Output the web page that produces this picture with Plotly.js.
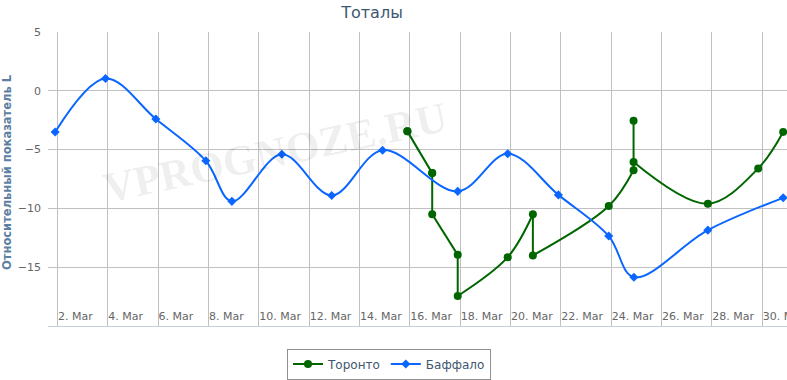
<!DOCTYPE html>
<html>
<head>
<meta charset="utf-8">
<script src="https://cdn.plot.ly/plotly-3.0.1.min.js"></script>
<style>
html, body { margin: 0; padding: 0; background: #fff; overflow: hidden; width: 787px; height: 380px; }
#chart { width: 840px; height: 380px; }
</style>
</head>
<body>
<div id="chart"></div>
<script>
// ---- data ----
const torontoDates = [
  '2015-03-15 21:40', '2015-03-16 21:20', '2015-03-16 21:20', '2015-03-17 21:40', '2015-03-17 21:40',
  '2015-03-19 21:20', '2015-03-20 21:20', '2015-03-20 21:20', '2015-03-23 21:40', '2015-03-24 21:20',
  '2015-03-24 21:20', '2015-03-24 21:20', '2015-03-27 20:10', '2015-03-29 20:10', '2015-03-30 20:00'
];
const torontoValues = [
  -3.45, -7.0, -10.5, -13.95, -17.45,
  -14.15, -10.5, -14.0, -9.8, -6.75,
  -2.55, -6.05, -9.6, -6.6, -3.5
];
const buffaloDates = [
  '2015-03-01 21:50', '2015-03-03 21:50', '2015-03-05 21:50', '2015-03-07 21:30', '2015-03-08 22:20',
  '2015-03-10 22:00', '2015-03-12 21:30', '2015-03-14 22:00', '2015-03-17 21:40', '2015-03-19 21:20',
  '2015-03-21 21:40', '2015-03-23 21:40', '2015-03-24 21:40', '2015-03-27 20:10', '2015-03-30 20:00'
];
const buffaloValues = [
  -3.5, 1.05, -2.4, -5.95, -9.4,
  -5.4, -8.9, -5.05, -8.55, -5.35,
  -8.85, -12.35, -15.85, -11.85, -9.1
];
const seriesNames = ['Торонто', 'Баффало'];
const yTickValues = [5, 0, -5, -10, -15, -20];
const chartTitle = 'Тоталы';
const yAxisTitle = 'Относительный показатель L';
const watermark = 'VPROGNOZE.RU';

const baseFont = 'DejaVu Sans, Verdana, sans-serif';
const GREEN = '#006600';
const BLUE = '#0a66ff';
const W = 840, H = 380;
const PLOT_W = W - 48;

// split a series into runs: straight where consecutive points share a date, spline otherwise
function buildRuns(xs) {
  const runs = [];
  let cur = null;
  for (let i = 0; i < xs.length - 1; i++) {
    const type = xs[i] === xs[i + 1] ? 'linear' : 'spline';
    if (!cur || cur.type !== type) { cur = { type: type, start: i, end: i + 1 }; runs.push(cur); }
    else cur.end = i + 1;
  }
  return runs;
}

const traces = [];
buildRuns(torontoDates).forEach(function (r, k) {
  traces.push({
    x: torontoDates.slice(r.start, r.end + 1),
    y: torontoValues.slice(r.start, r.end + 1),
    name: seriesNames[0], legendgroup: 'tor', showlegend: k === 0,
    type: 'scatter', mode: k === 0 ? 'lines+markers' : 'lines',
    line: { color: GREEN, width: 2, shape: r.type, smoothing: 1 },
    marker: { color: GREEN, size: 8, symbol: 'circle' },
    hoverinfo: 'skip'
  });
});
traces.push({
  x: torontoDates, y: torontoValues, name: seriesNames[0], legendgroup: 'tor', showlegend: false,
  type: 'scatter', mode: 'markers',
  marker: { color: GREEN, size: 8, symbol: 'circle' }
});
traces.push({
  x: buffaloDates, y: buffaloValues, name: seriesNames[1],
  type: 'scatter', mode: 'lines+markers',
  line: { color: BLUE, width: 2, shape: 'spline', smoothing: 1 },
  marker: { color: BLUE, size: 7, symbol: 'diamond' }
});

const layout = {
  width: W, height: H,
  margin: { l: 48, r: 0, t: 32, b: 54 },
  paper_bgcolor: '#fff', plot_bgcolor: '#fff',
  font: { family: baseFont, size: 11, color: '#666' },
  title: {
    text: chartTitle, xref: 'container', x: 372 / W, xanchor: 'center',
    yref: 'container', y: 1 - 12 / H, yanchor: 'middle',
    font: { family: baseFont, size: 16, color: '#3E576F' }
  },
  xaxis: {
    type: 'date',
    range: ['2015-03-01 15:00', '2015-04-02 02:10'],
    dtick: 2 * 86400000, tick0: '2015-03-02',
    tickformat: '%-d. %b',
    ticklabelposition: 'inside right',
    ticks: '',
    showgrid: true, gridcolor: '#C0C0C0', gridwidth: 1,
    showline: true, linecolor: '#C0D0E0', linewidth: 1,
    zeroline: false,
    tickfont: { family: baseFont, size: 11, color: '#666' },
    automargin: false,
    fixedrange: true
  },
  yaxis: {
    range: [-20, 5],
    tickvals: yTickValues,
    ticks: '',
    ticklabelstandoff: 6,
    showgrid: true, gridcolor: '#C0C0C0', gridwidth: 1,
    zeroline: false, showline: false,
    tickfont: { family: baseFont, size: 11, color: '#666' },
    automargin: false,
    fixedrange: true
  },
  showlegend: true,
  legend: {
    orientation: 'h', traceorder: 'normal',
    xref: 'container', x: 389 / W, xanchor: 'center',
    yref: 'container', y: 1 - 364 / H, yanchor: 'middle',
    bgcolor: '#fff', bordercolor: '#909090', borderwidth: 1,
    font: { family: baseFont, size: 12, color: '#3E576F' },
    itemwidth: 30
  },
  annotations: [
    {
      text: watermark, xref: 'paper', yref: 'paper',
      x: (275 - 48) / PLOT_W, y: (326 - 152) / 294,
      xanchor: 'center', yanchor: 'middle', showarrow: false,
      textangle: -12,
      font: { family: 'Liberation Serif, Times New Roman, serif', size: 43, color: 'rgba(0,0,0,0.08)', weight: 'bold' }
    },
    {
      text: '<b>' + yAxisTitle + '</b>', xref: 'paper', yref: 'paper',
      x: (7 - 48) / PLOT_W, y: (326 - 172) / 294,
      xanchor: 'center', yanchor: 'middle', showarrow: false,
      textangle: -90,
      font: { family: baseFont, size: 11.5, color: '#5c7fa3' }
    }
  ]
};

Plotly.newPlot('chart', traces, layout, { displayModeBar: false, staticPlot: true });
</script>
</body>
</html>
